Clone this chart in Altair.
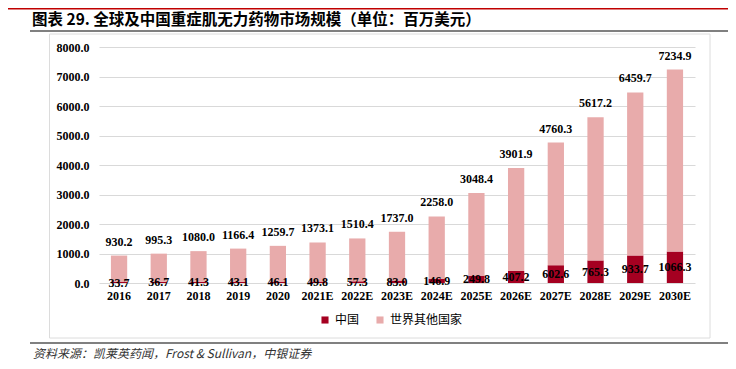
import altair as alt
import pandas as pd

years = ["2016", "2017", "2018", "2019", "2020", "2021E", "2022E", "2023E",
         "2024E", "2025E", "2026E", "2027E", "2028E", "2029E", "2030E"]
total = [930.2, 995.3, 1080.0, 1166.4, 1259.7, 1373.1, 1510.4, 1737.0,
         2258.0, 3048.4, 3901.9, 4760.3, 5617.2, 6459.7, 7234.9]
china = [33.7, 36.7, 41.3, 43.1, 46.1, 49.8, 57.3, 83.0,
         146.9, 249.8, 407.2, 602.6, 765.3, 933.7, 1066.3]
series = ["中国", "世界其他国家"]
colors = ["#A50021", "#E8ABAB"]
y_ticks = [0, 1000, 2000, 3000, 4000, 5000, 6000, 7000, 8000]

title_text = "图表 29. 全球及中国重症肌无力药物市场规模（单位：百万美元）"
source_text = "资料来源：凯莱英药闻，Frost & Sullivan，中银证券"

rows = []
for yr, t, c in zip(years, total, china):
    rows.append({"year": yr, "series": series[0], "value": c, "ord": 0})
    rows.append({"year": yr, "series": series[1], "value": round(t - c, 1), "ord": 1})
long_df = pd.DataFrame(rows)
lab_df = pd.DataFrame({"year": years, "total": total, "china": china,
                       "mid": [c / 2 for c in china]})

W, H = 596, 236
serif = "Liberation Serif"
cjk = "Noto Sans CJK SC"

x_axis = alt.Axis(domain=False, ticks=False, labelAngle=0, labelFont=serif,
                  labelFontWeight="bold", labelFontSize=12, labelColor="#000",
                  labelPadding=7, labelOverlap=False)
x_scale = alt.Scale(paddingInner=0.59, paddingOuter=0.3)
y_axis = alt.Axis(values=y_ticks, tickCount=9, format=".1f", domain=False, ticks=False,
                  gridColor="#d9d9d9", labelFont=serif, labelFontWeight="bold",
                  labelFontSize=12, labelColor="#000", labelPadding=10,
                  labelOverlap=False)
y_scale = alt.Scale(domain=[0, 8000], nice=False)

bars = alt.Chart(long_df).mark_bar().encode(
    x=alt.X("year:N", sort=years, title=None, scale=x_scale, axis=x_axis),
    y=alt.Y("value:Q", stack="zero", title=None, scale=y_scale, axis=y_axis),
    color=alt.Color("series:N", scale=alt.Scale(domain=series, range=colors),
                    legend=alt.Legend(title=None, orient="none", direction="horizontal",
                                      legendX=220, legendY=267, symbolType="square",
                                      symbolSize=50, symbolStrokeWidth=0,
                                      labelFont=cjk, labelFontSize=12, labelColor="#000",
                                      labelOffset=4, columnPadding=14, padding=0)),
    order=alt.Order("ord:Q"),
)

top_labels = alt.Chart(lab_df).mark_text(
    font=serif, fontWeight="bold", fontSize=12, color="#000", baseline="middle", dy=-14
).encode(x=alt.X("year:N", sort=years, title=None, scale=x_scale, axis=x_axis),
         y=alt.Y("total:Q", title=None, scale=y_scale, axis=y_axis),
         text=alt.Text("total:Q", format=".1f"))

cn_labels = alt.Chart(lab_df).mark_text(
    font=serif, fontWeight="bold", fontSize=12, color="#000", baseline="middle"
).encode(x=alt.X("year:N", sort=years, title=None, scale=x_scale, axis=x_axis),
         y=alt.Y("mid:Q", title=None, scale=y_scale, axis=y_axis),
         text=alt.Text("china:Q", format=".1f"))

one = alt.Data(values=[{}])

box = alt.Chart(one).mark_rect(filled=False, stroke="#dcdcdc", strokeWidth=1).encode(
    x=alt.value(-49.5), x2=alt.value(611), y=alt.value(-13), y2=alt.value(291))
red_line = alt.Chart(one).mark_rule(color="#C00000", strokeWidth=1.5).encode(
    x=alt.value(-99), x2=alt.value(637), y=alt.value(-38.2))
title_rule = alt.Chart(one).mark_rule(color="#808080", strokeWidth=2).encode(
    x=alt.value(-69), x2=alt.value(631), y=alt.value(-16))
foot_rule = alt.Chart(one).mark_rule(color="#808080", strokeWidth=2).encode(
    x=alt.value(-69), x2=alt.value(631), y=alt.value(296))
title = alt.Chart(one).mark_text(
    text=title_text, font=cjk, fontWeight="bold", fontSize=15.5, align="left",
    baseline="middle", color="#000").encode(x=alt.value(-67), y=alt.value(-27.5))
source = alt.Chart(one).mark_text(
    text=source_text, font=cjk, fontStyle="italic", fontSize=12, align="left",
    baseline="middle", color="#333").encode(x=alt.value(-66), y=alt.value(307))

chart = alt.layer(box, red_line, title_rule, foot_rule, title, source,
                  bars, top_labels, cn_labels).properties(
    width=W, height=H, autosize=alt.AutoSizeParams(type="none"),
    padding={"left": 91, "top": 39, "right": 33, "bottom": 80},
    background="#ffffff",
).configure_view(stroke=None)

chart.save("out.html", embed_options={"renderer": "svg", "actions": False})
